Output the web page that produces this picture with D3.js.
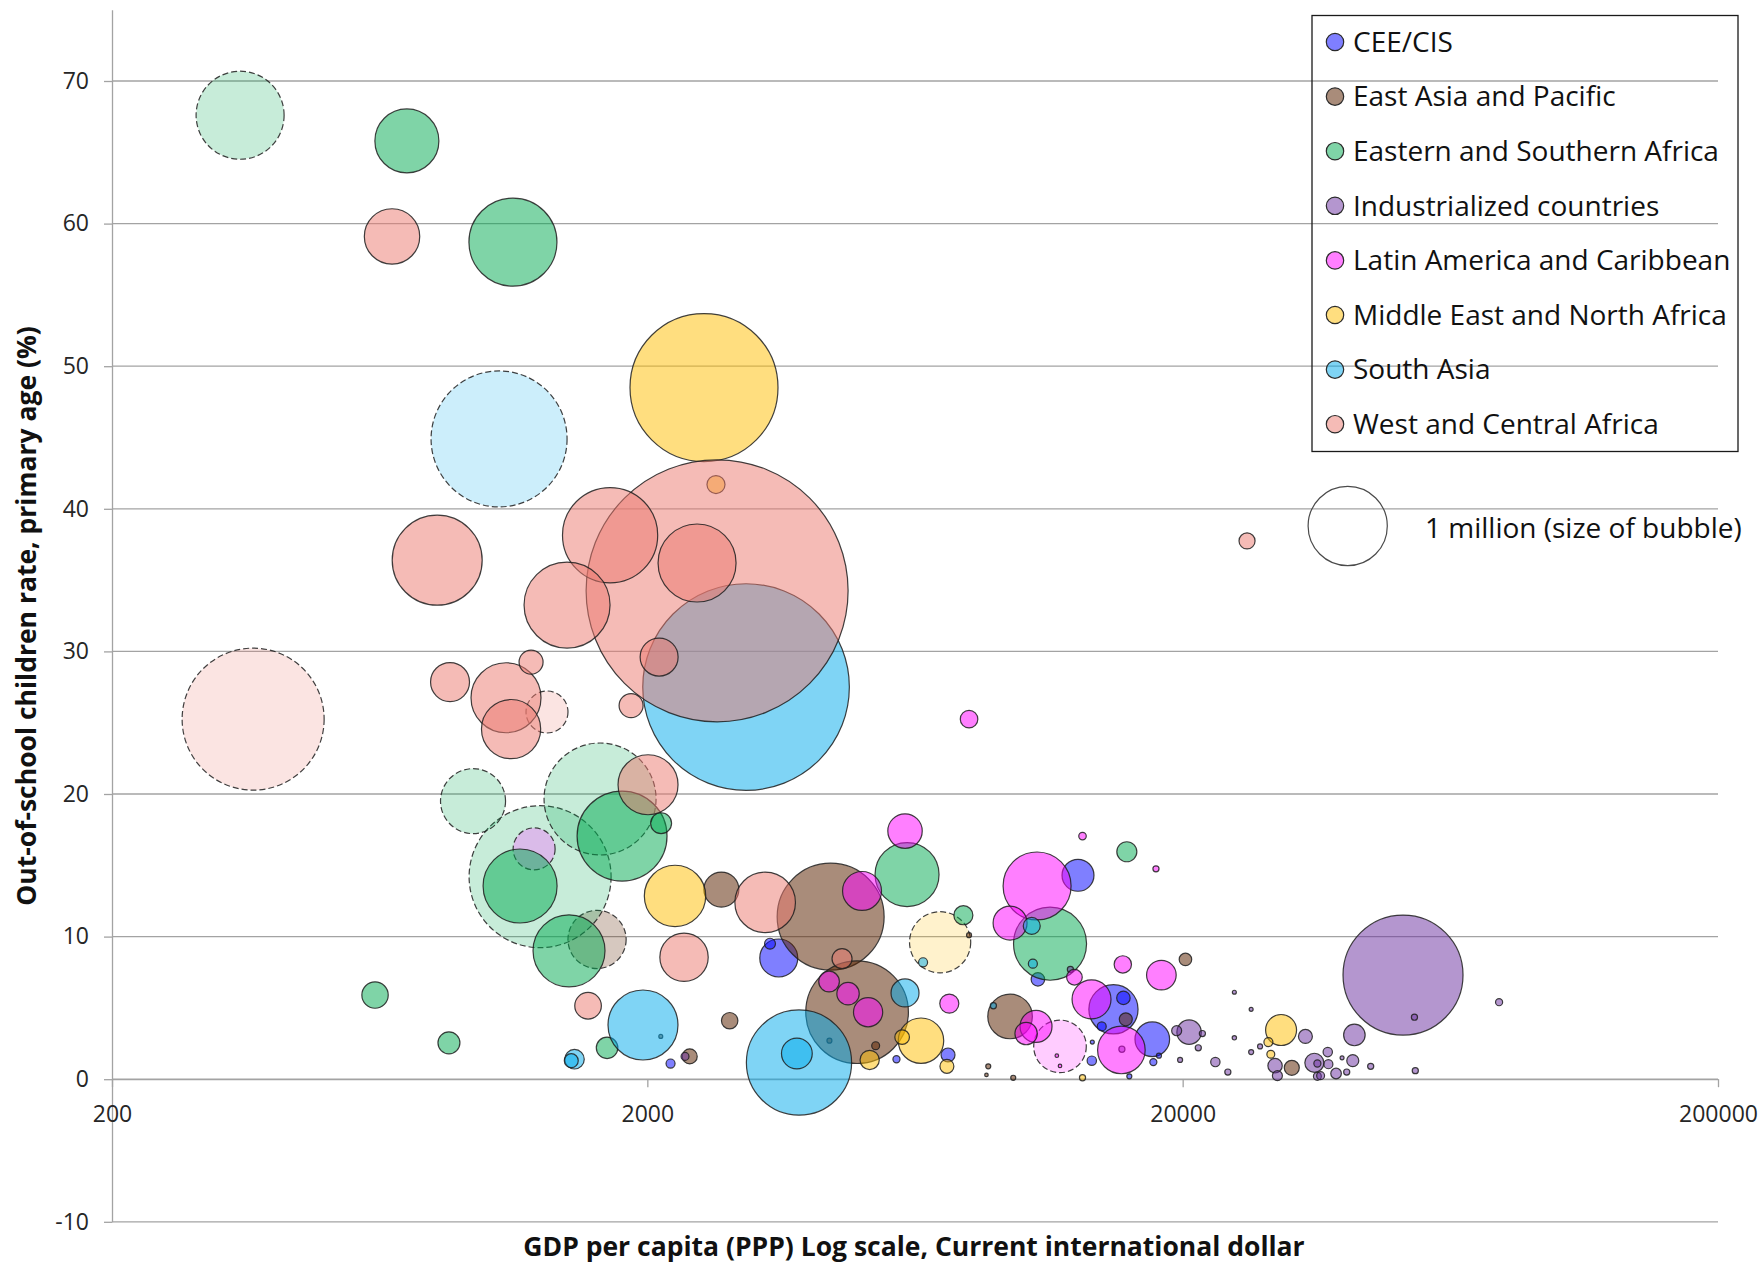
<!DOCTYPE html>
<html>
<head>
<meta charset="utf-8">
<script src="https://cdn.jsdelivr.net/npm/d3@7"></script>
<style>
  body { margin: 0; background: #fff; }
  text { font-family: "Open Sans", "Noto Sans", sans-serif; }
</style>
</head>
<body>
<svg id="chart" width="1763" height="1264"></svg>
<script>
// Each bubble: [GDP per capita (PPP, current int. $), out-of-school rate (%), out-of-school children (thousands), estimated?]
const ceeCis = [
  [3520, 8.5, 230], [3390, 9.5, 19], [2210, 1.1, 13], [12750, 14.3, 163], [10730, 7.0, 29],
  [14850, 4.9, 386], [15500, 5.7, 29], [14120, 3.7, 13], [17550, 2.8, 191], [17630, 1.2, 8],
  [7290, 1.7, 31], [5840, 1.4, 8], [13530, 1.3, 14], [18060, 1.65, 4], [15900, 0.2, 4], [13560, 2.6, 2.5]
];
const eastAsiaPacific = [
  [4400, 11.4, 1825], [4930, 4.7, 1680], [2750, 13.3, 195], [2850, 4.1, 43], [2400, 1.6, 36],
  [5340, 2.35, 10], [9520, 4.4, 317], [15660, 4.2, 27], [20240, 8.4, 25], [31980, 0.8, 36],
  [1611, 9.8, 540, 1], [9650, 0.1, 4], [2119, 3.0, 2.5], [4377, 2.7, 4], [7980, 10.1, 4],
  [8667, 0.9, 4], [8600, 0.3, 2]
];
const easternSouthernAfrica = [
  [347, 67.6, 1235, 1], [711, 65.8, 653], [1122, 58.7, 1235], [1632, 19.65, 2000, 1], [945, 19.5, 674, 1],
  [1261, 14.2, 3215, 1], [1157, 13.55, 873], [1794, 17.05, 1290], [2122, 17.95, 70], [1428, 9.0, 826],
  [620, 5.9, 111], [852, 2.55, 77], [1682, 2.2, 74], [6112, 14.35, 653], [7787, 11.5, 58],
  [11306, 9.5, 850], [15730, 15.95, 64]
];
const industrialized = [
  [1229, 16.15, 281, 1], [51600, 7.3, 2296], [54200, 4.35, 6], [54400, 0.6, 6], [78000, 5.4, 8],
  [20560, 3.3, 95], [19490, 3.4, 16], [21390, 2.2, 6], [23020, 1.2, 14], [24290, 0.5, 6],
  [27900, 2.3, 4], [29760, 0.95, 33], [30060, 0.25, 16], [33910, 3.0, 31], [35240, 1.15, 58],
  [35700, 1.1, 8], [37330, 1.9, 14], [37430, 1.05, 13], [38690, 0.4, 18], [35700, 0.2, 10],
  [36200, 0.25, 10], [41860, 3.1, 74], [41570, 1.3, 23], [40500, 0.5, 6], [44900, 0.9, 6],
  [24980, 6.1, 2.5], [26850, 4.9, 2.5], [24980, 2.9, 3], [26850, 1.9, 4], [21770, 3.2, 6],
  [19780, 1.35, 4], [12340, 7.7, 6], [15400, 2.1, 6], [2352, 1.6, 10], [39700, 1.5, 2.5]
];
const latinAmericaCaribbean = [
  [7980, 25.25, 49], [6059, 17.4, 189], [5036, 13.2, 242], [4370, 6.85, 68], [4742, 6.0, 80],
  [5169, 4.7, 136], [7330, 5.3, 58], [13000, 17.05, 9], [10693, 13.55, 737], [9520, 10.95, 184],
  [12556, 7.15, 39], [13514, 5.6, 242], [15366, 2.05, 361], [18250, 7.3, 140], [15460, 8.05, 48],
  [17830, 14.75, 6], [10644, 3.7, 163], [10200, 3.2, 80], [11800, 2.3, 441, 1], [11640, 1.65, 2],
  [11800, 0.93, 2]
];
const middleEastNorthAfrica = [
  [2552, 48.5, 3492], [2687, 41.7, 52], [2253, 12.85, 601], [6490, 2.7, 329], [5984, 2.95, 34],
  [5204, 1.35, 59], [7255, 0.9, 31], [7046, 9.6, 597, 1], [13000, 0.1, 6], [30540, 3.45, 153],
  [28920, 2.6, 13], [29220, 1.75, 10]
];
const southAsia = [
  [1057, 44.9, 2949, 1], [3058, 27.5, 6805], [1963, 3.8, 781], [1462, 1.4, 61], [1442, 1.3, 31],
  [3840, 1.17, 1765], [3805, 1.8, 151], [6059, 6.05, 125], [6548, 8.2, 13], [10450, 10.75, 46],
  [10500, 8.1, 13], [8860, 5.15, 6]
];
const westCentralAfrica = [
  [667, 59.1, 489], [810, 36.4, 1291], [367, 25.25, 3215, 1], [856, 27.85, 242], [1089, 26.75, 781],
  [1113, 24.55, 559], [1213, 29.25, 92], [1299, 25.75, 281, 1], [1416, 33.25, 1179], [1704, 38.15, 1445],
  [2700, 34.25, 10943], [2477, 36.2, 970], [2104, 29.6, 230], [1865, 26.2, 92], [2006, 20.65, 574],
  [1550, 5.15, 113], [3320, 12.4, 585], [2342, 8.55, 373], [4621, 8.45, 64], [26380, 37.75, 41]
];

const regionNames = [
  "CEE/CIS", "East Asia and Pacific", "Eastern and Southern Africa", "Industrialized countries",
  "Latin America and Caribbean", "Middle East and North Africa", "South Asia", "West and Central Africa"
];
const regionSeries = [ceeCis, eastAsiaPacific, easternSouthernAfrica, industrialized,
  latinAmericaCaribbean, middleEastNorthAfrica, southAsia, westCentralAfrica];
const xTickValues = [200, 2000, 20000, 200000];
const yTickValues = [-10, 0, 10, 20, 30, 40, 50, 60, 70];
const referenceBubble = 1000;   // thousands of children
const referenceLabel = "1 million (size of bubble)";
const xTitle = "GDP per capita (PPP) Log scale, Current international dollar";
const yTitle = "Out-of-school children rate, primary age (%)";

// ---- styling per region
const regionColors = ["#0000ff", "#5a2300", "#00aa50", "#692da0", "#ff00ff", "#ffbe00", "#00aaeb", "#eb786e"];
const solidOpacity = [0.5, 0.52, 0.5, 0.5, 0.5, 0.5, 0.5, 0.5];
// estimates are drawn in a pale tint with a dashed outline
const dashedColors = ["#0000ff", "#5a2300", "#00aa50", "#e2a8ee", "#ff00ff", "#ffbe00", "#00aaeb", "#eb786e"];
const dashedOpacity = [0.22, 0.25, 0.22, 0.72, 0.2, 0.2, 0.2, 0.2];

const svg = d3.select("#chart");
const left = 112, right = 1718;

const x = d3.scaleLog().domain([200, 200000]).range([left, right]);
const y = d3.scaleLinear().domain([-10, 75]).range([1221.8, 9.7]);
const r = d3.scaleSqrt().domain([0, 1000]).range([0, 39.6]);

const gridColor = "#a3a3a3";

// horizontal gridlines
svg.append("g")
  .selectAll("line")
  .data(yTickValues)
  .join("line")
  .attr("x1", left).attr("x2", right)
  .attr("y1", d => y(d)).attr("y2", d => y(d))
  .attr("stroke", gridColor)
  .attr("stroke-width", 1.3);

// vertical axis
const yAxisG = svg.append("g")
  .attr("transform", `translate(${left},0)`)
  .call(d3.axisLeft(y).tickValues(yTickValues).tickFormat(d => String(d))
    .tickSize(8).tickSizeOuter(0).tickPadding(15));

// horizontal axis, crossing at zero
const xAxisG = svg.append("g")
  .attr("transform", `translate(0,${y(0)})`)
  .call(d3.axisBottom(x).tickValues(xTickValues).tickFormat(d => String(d))
    .tickSize(8).tickSizeOuter(0).tickPadding(18));

[yAxisG, xAxisG].forEach(g => {
  g.select(".domain").attr("stroke", gridColor).attr("stroke-width", 1.3);
  g.selectAll(".tick line").attr("stroke", gridColor).attr("stroke-width", 1.3);
  g.selectAll(".tick text")
    .attr("font-size", 23)
    .attr("fill", "#262626")
    .style("font-family", '"Open Sans", sans-serif');
});

// bubbles: estimates first, then regions in order; larger bubbles underneath smaller ones
const bubbles = [];
regionSeries.forEach((series, i) => {
  series.forEach(d => bubbles.push({ gdp: d[0], rate: d[1], kids: d[2], dashed: !!d[3], region: i }));
});
bubbles.sort((a, b) => (b.dashed - a.dashed) || a.region - b.region || b.kids - a.kids);

svg.append("g")
  .selectAll("circle")
  .data(bubbles)
  .join("circle")
  .attr("cx", d => x(d.gdp))
  .attr("cy", d => y(d.rate))
  .attr("r", d => r(d.kids))
  .attr("fill", d => d.dashed ? dashedColors[d.region] : regionColors[d.region])
  .attr("fill-opacity", d => d.dashed ? dashedOpacity[d.region] : solidOpacity[d.region])
  .attr("stroke", "#1e1e1e")
  .attr("stroke-opacity", 0.85)
  .attr("stroke-width", 1.2)
  .attr("stroke-dasharray", d => d.dashed ? "6,3" : null);

// legend box
const legend = svg.append("g");
legend.append("rect")
  .attr("x", 1312).attr("y", 15.5)
  .attr("width", 426).attr("height", 436)
  .attr("fill", "none")
  .attr("stroke", "#1a1a1a")
  .attr("stroke-width", 1.3);

const items = legend.selectAll("g.item")
  .data(regionNames)
  .join("g")
  .attr("class", "item")
  .attr("transform", (d, i) => `translate(1335,${42 + i * 54.6})`);
items.append("circle")
  .attr("r", 8.7)
  .attr("fill", (d, i) => regionColors[i])
  .attr("fill-opacity", (d, i) => solidOpacity[i])
  .attr("stroke", "#2a2a2a")
  .attr("stroke-width", 1.2);
items.append("text")
  .attr("x", 18)
  .attr("dy", "0.35em")
  .attr("font-size", 28)
  .attr("fill", "#111")
  .text(d => d);

// size reference bubble
svg.append("circle")
  .attr("cx", 1347.7).attr("cy", 526)
  .attr("r", r(referenceBubble))
  .attr("fill", "none")
  .attr("stroke", "#4a4a4a")
  .attr("stroke-width", 1.2);
svg.append("text")
  .attr("x", 1425).attr("y", 528)
  .attr("dy", "0.35em")
  .attr("font-size", 28)
  .attr("fill", "#111")
  .text(referenceLabel);

// axis titles
svg.append("text")
  .attr("x", 914).attr("y", 1247)
  .attr("dy", "0.35em")
  .attr("text-anchor", "middle")
  .attr("font-size", 26.5)
  .attr("font-weight", "bold")
  .attr("fill", "#111")
  .text(xTitle);
svg.append("text")
  .attr("transform", "translate(27,616) rotate(-90)")
  .attr("dy", "0.35em")
  .attr("text-anchor", "middle")
  .attr("font-size", 26.5)
  .attr("font-weight", "bold")
  .attr("fill", "#111")
  .text(yTitle);
</script>
</body>
</html>
